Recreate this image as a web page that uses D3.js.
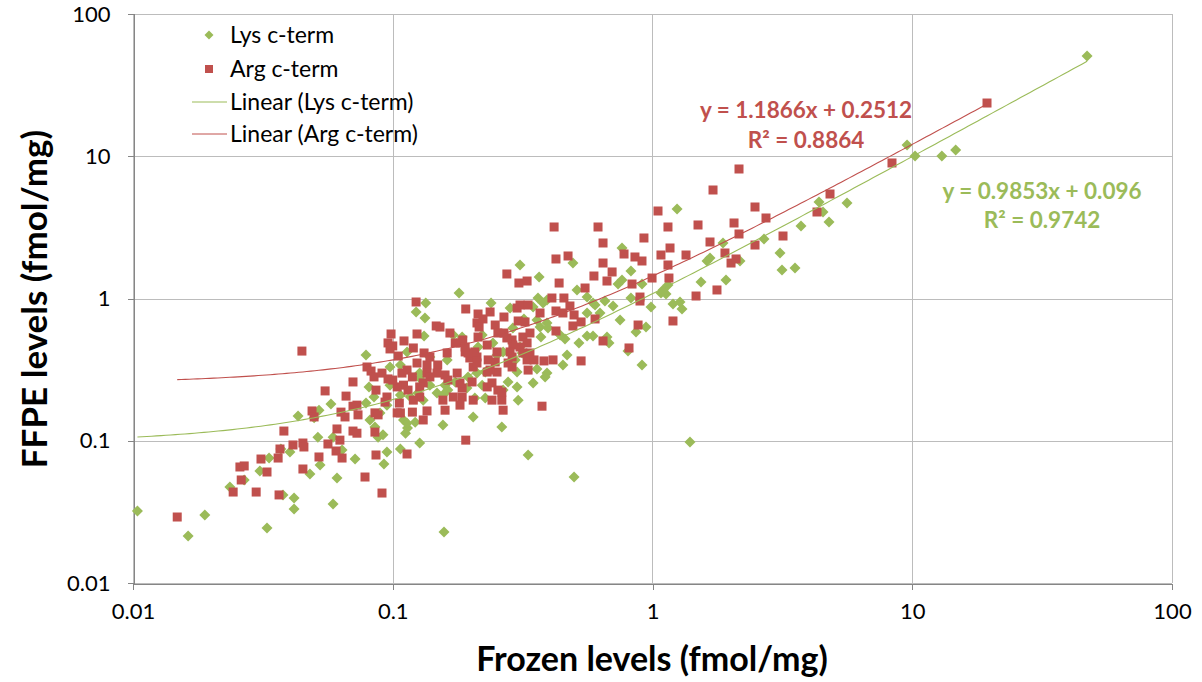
<!DOCTYPE html>
<html><head><meta charset="utf-8">
<script src="https://cdn.jsdelivr.net/npm/d3@7"></script>
<style>
body{margin:0;background:#fff;}
svg{display:block;font-family:Lato,"Open Sans",sans-serif;}
</style>
</head><body><svg id="chart" width="1202" height="682"></svg>
<script>
// ---------- data ----------
const tickValues = [0.01, 0.1, 1, 10, 100];
const tickLabels = ["0.01", "0.1", "1", "10", "100"];
const xTitle = "Frozen levels (fmol/mg)";
const yTitle = "FFPE levels (fmol/mg)";
const seriesNames = ["Lys c-term", "Arg c-term"];
const trendNames = ["Linear (Lys c-term)", "Linear (Arg c-term)"];
const lysFit = [0.9853, 0.096, 0.9742];   // slope, intercept, R²
const argFit = [1.1866, 0.2512, 0.8864];

// [frozen, FFPE]
const lysPoints = [
[0.0104,0.0321],[0.0163,0.0214],[0.0189,0.0301],[0.0328,0.0244],[0.0417,0.0396],[0.0417,0.0331],[0.0378,0.0416],[0.0589,0.0359],
[0.048,0.0584],[0.0525,0.0676],[0.061,0.0547],[0.0716,0.0744],[0.0515,0.106],[0.0589,0.106],[0.0334,0.0756],[0.0308,0.0613],
[0.0236,0.0473],[0.0268,0.053],[0.0371,0.0875],[0.0402,0.0833],[0.0638,0.0861],[0.0878,0.106],[0.0789,0.401],[0.081,0.239],
[0.0847,0.203],[0.0789,0.184],[0.0578,0.181],[0.052,0.164],[0.0432,0.149],[0.0498,0.145],[0.0817,0.140],[0.0854,0.125],
[0.180,1.093],[0.134,0.930],[0.123,0.804],[0.133,0.729],[0.239,0.930],[0.283,0.857],[0.132,0.545],[0.185,0.536],
[0.162,0.370],[0.0976,0.330],[0.1135,0.421],[0.213,0.456],[0.221,0.554],[0.243,0.487],[0.266,0.421],[0.296,0.370],
[0.315,0.414],[0.227,0.304],[0.211,0.299],[0.195,0.281],[0.221,0.246],[0.207,0.200],[0.193,0.235],[0.301,0.304],
[0.301,0.239],[0.278,0.259],[0.227,0.200],[0.266,0.227],[0.304,0.193],[0.263,0.125],[0.204,0.147],[0.156,0.129],
[0.131,0.193],[0.139,0.246],[0.159,0.246],[0.174,0.259],[0.127,0.276],[0.117,0.203],[0.107,0.210],[0.095,0.178],
[0.0893,0.157],[0.110,0.140],[0.122,0.135],[0.114,0.123],[0.0976,0.246],[0.163,0.227],[0.125,0.217],[0.107,0.341],
[0.139,0.388],[0.127,0.299],[0.171,0.554],[0.252,0.401],[0.309,0.456],[0.320,0.718],[0.290,0.620],[0.156,0.210],
[0.148,0.217],[0.309,1.720],[0.1575,0.0228],[0.332,0.0794],[0.499,0.0556],[0.127,0.0964],[0.107,0.0875],[0.095,0.0833],
[0.0925,0.0687],[0.112,0.113],[0.0917,0.110],[0.1135,0.133],[1.394,0.098],[0.366,1.416],[0.3625,1.008],[0.379,0.930],
[0.3925,0.976],[0.512,1.148],[0.560,1.024],[0.494,1.776],[0.601,0.900],[0.590,0.930],[0.560,0.791],[0.521,0.487],
[0.4605,0.519],[0.469,0.401],[0.452,0.341],[0.441,0.554],[0.3925,0.673],[0.396,0.620],[0.372,0.536],[0.369,0.630],
[0.359,0.706],[0.347,0.871],[0.347,0.255],[0.386,0.281],[0.3925,0.299],[0.359,0.320],[0.590,0.545],[0.560,0.545],
[1.243,4.258],[0.763,2.265],[0.826,1.561],[0.737,1.264],[0.763,1.349],[0.911,1.264],[0.656,0.960],[0.705,0.886],
[0.628,0.791],[0.750,0.706],[0.826,1.008],[0.987,0.871],[1.098,1.148],[1.078,1.093],[1.127,1.076],[1.147,1.244],
[1.199,0.915],[1.276,0.945],[1.299,0.844],[1.537,1.306],[1.919,1.349],[1.665,1.927],[1.621,1.835],[1.868,2.456],
[2.172,1.835],[2.687,2.620],[3.097,2.089],[3.152,1.586],[3.537,1.638],[3.730,3.234],[4.375,4.770],[4.533,4.056],
[4.781,3.451],[5.609,4.694],[0.944,0.630],[0.864,0.581],[0.668,0.536],[0.680,0.487],[0.805,0.427],[0.911,0.341],
[47.1,50.7],[9.55,12.0],[10.25,10.04],[13.0,10.04],[14.7,11.07]
];

const argPoints = [
[0.0447,0.427],[0.0796,0.330],[0.0825,0.309],[0.0847,0.281],[0.0703,0.259],[0.0549,0.224],[0.0661,0.206],[0.0703,0.175],
[0.0728,0.178],[0.0854,0.157],[0.0878,0.152],[0.0489,0.162],[0.0498,0.147],[0.0632,0.159],[0.0655,0.147],[0.0735,0.152],
[0.061,0.121],[0.0862,0.227],[0.0148,0.0291],[0.0243,0.0436],[0.0261,0.053],[0.0258,0.0654],[0.0268,0.0665],[0.0298,0.0436],
[0.0328,0.0603],[0.0311,0.0744],[0.0362,0.0756],[0.0368,0.0875],[0.0365,0.0416],[0.0451,0.0633],[0.0413,0.0934],[0.0451,0.0964],
[0.0455,0.0904],[0.052,0.0769],[0.0563,0.0949],[0.0605,0.0847],[0.0626,0.101],[0.0638,0.0756],[0.0782,0.0556],[0.0862,0.0794],
[0.0381,0.117],[0.0703,0.117],[0.0728,0.113],[0.0854,0.115],
[0.123,0.945],[0.191,0.844],[0.213,0.778],[0.237,0.804],[0.268,0.741],[0.301,0.857],[0.309,0.900],[0.211,0.673],
[0.304,0.695],[0.323,0.684],[0.147,0.641],[0.152,0.630],[0.166,0.572],[0.182,0.487],[0.186,0.511],[0.213,0.536],
[0.231,0.471],[0.248,0.651],[0.254,0.572],[0.268,0.572],[0.288,0.511],[0.290,0.471],[0.317,0.536],[0.329,0.487],
[0.283,0.421],[0.288,0.388],[0.317,0.414],[0.329,0.370],[0.252,0.421],[0.248,0.358],[0.233,0.370],[0.231,0.304],
[0.288,0.330],[0.231,0.239],[0.241,0.255],[0.254,0.227],[0.263,0.193],[0.204,0.330],[0.211,0.388],[0.198,0.382],
[0.207,0.421],[0.190,0.421],[0.174,0.487],[0.162,0.414],[0.0985,0.563],[0.0959,0.487],[0.100,0.464],[0.0976,0.442],
[0.1105,0.503],[0.124,0.563],[0.120,0.449],[0.132,0.414],[0.105,0.394],[0.0909,0.299],[0.0959,0.272],[0.095,0.203],
[0.0934,0.187],[0.106,0.184],[0.107,0.157],[0.119,0.159],[0.1135,0.314],[0.119,0.281],[0.110,0.246],[0.1145,0.227],
[0.124,0.352],[0.1355,0.341],[0.131,0.255],[0.131,0.140],[0.1355,0.162],[0.104,0.239],[0.127,0.203],[0.120,0.193],
[0.104,0.157],[0.1085,0.299],[0.100,0.267],[0.127,0.239],[0.139,0.388],[0.149,0.341],[0.1355,0.299],[0.148,0.299],
[0.159,0.290],[0.163,0.267],[0.177,0.299],[0.185,0.235],[0.185,0.203],[0.171,0.203],[0.156,0.193],[0.159,0.164],
[0.204,0.193],[0.241,0.193],[0.266,0.164],[0.309,0.456],[0.332,0.900],[0.202,0.259],[0.263,0.220],[0.1815,0.255],
[0.278,0.352],[0.252,0.304],[0.332,0.314],[0.139,0.281],[0.195,0.414],[0.211,0.352],[0.237,0.314],[0.3375,0.572],
[0.3375,0.414],[0.2225,0.718],[0.275,0.528],[0.215,0.630],[0.190,0.456],[0.1815,0.178],[0.191,0.101],[0.1135,0.0807],
[0.0909,0.0429],[0.3755,0.175],[0.275,1.487],[0.306,1.285],[0.329,1.327],[0.418,3.182],[0.617,3.182],[0.425,1.896],
[0.473,1.990],[0.595,1.439],[0.437,1.285],[0.550,1.185],[0.410,1.008],[0.456,1.008],[0.369,0.791],[0.425,0.817],
[0.481,0.886],[0.499,0.766],[0.452,0.791],[0.494,0.641],[0.531,0.684],[0.601,0.718],[0.425,0.591],[0.350,0.370],
[0.382,0.364],[0.414,0.370],[0.531,0.364],
[2.153,8.136],[1.710,5.791],[1.050,4.122],[1.147,3.182],[1.497,3.287],[2.481,4.398],[2.735,3.681],[2.060,3.395],
[2.153,2.841],[1.665,2.496],[0.927,2.663],[0.645,2.456],[0.777,2.055],[0.856,1.958],[0.911,1.835],[1.078,2.022],
[1.168,2.265],[1.346,2.022],[1.901,2.089],[2.006,1.776],[2.097,1.896],[2.481,2.377],[3.180,2.750],[4.298,4.056],
[4.824,5.428],[8.356,8.97],[0.645,1.776],[0.699,1.536],[0.668,1.327],[0.834,1.264],[0.996,1.393],[1.147,1.720],
[1.157,1.393],[0.895,1.024],[0.895,0.960],[1.471,1.041],[1.771,1.148],[1.199,0.695],[0.880,0.651],[0.812,0.449],
[0.645,0.503],[19.4,23.67]
];

// ---------- layout ----------
const GREEN = "#9BBB59", RED = "#C0504D";
const svg = d3.select("#chart");
const x = d3.scaleLog().domain([0.01, 100]).range([133, 1172]);
const y = d3.scaleLog().domain([0.01, 100]).range([583, 14]);

// grid
const grid = svg.append("g").attr("shape-rendering", "crispEdges");
grid.selectAll(".vg").data(tickValues).join("line")
  .attr("x1", d => Math.round(x(d)) + 0.5).attr("x2", d => Math.round(x(d)) + 0.5)
  .attr("y1", y(100)).attr("y2", y(0.01)).attr("stroke", "#bcbcbc");
grid.selectAll(".hg").data(tickValues).join("line")
  .attr("y1", d => Math.round(y(d)) + 0.5).attr("y2", d => Math.round(y(d)) + 0.5)
  .attr("x1", x(0.01)).attr("x2", x(100)).attr("stroke", "#bcbcbc");

// axes
const fmt = (d) => tickLabels[tickValues.indexOf(d)];
const xAxis = svg.append("g").attr("transform", `translate(0,${Math.round(y(0.01)) + 0.5})`)
  .call(d3.axisBottom(x).tickValues(tickValues).tickFormat(fmt).tickSize(6).tickPadding(14));
const yAxis = svg.append("g").attr("transform", `translate(${Math.round(x(0.01)) + 0.5},0)`)
  .call(d3.axisLeft(y).tickValues(tickValues).tickFormat(fmt).tickSize(6).tickPadding(17));
[xAxis, yAxis].forEach(a => {
  a.select(".domain").attr("stroke", "#868686").attr("shape-rendering", "crispEdges");
  a.selectAll(".tick line").attr("stroke", "#868686").attr("shape-rendering", "crispEdges");
  a.selectAll(".tick text").attr("font-family", "Lato, sans-serif").attr("font-size", 22).attr("fill", "#000");
});

// markers
const diamond = "M0,-5.5L5.5,0L0,5.5L-5.5,0Z";
svg.append("g").selectAll("path").data(lysPoints).join("path")
  .attr("d", diamond)
  .attr("transform", d => `translate(${x(d[0])},${y(d[1])})`)
  .attr("fill", GREEN);
svg.append("g").selectAll("rect").data(argPoints).join("rect")
  .attr("x", d => x(d[0]) - 4.5).attr("y", d => y(d[1]) - 4.5)
  .attr("width", 9).attr("height", 9)
  .attr("fill", RED);

// trend lines (from fitted equations over each series' frozen range)
function trend(points, fit) {
  const ext = d3.extent(points, d => d[0]);
  const l0 = Math.log10(ext[0]), l1 = Math.log10(ext[1]);
  const n = 200;
  return d3.range(n + 1).map(i => {
    const xv = Math.pow(10, l0 + (l1 - l0) * i / n);
    return [xv, fit[0] * xv + fit[1]];
  });
}
const line = d3.line().x(d => x(d[0])).y(d => y(d[1]));
svg.append("path").datum(trend(lysPoints, lysFit)).attr("d", line)
  .attr("fill", "none").attr("stroke", GREEN).attr("stroke-width", 1.1);
svg.append("path").datum(trend(argPoints, argFit)).attr("d", line)
  .attr("fill", "none").attr("stroke", RED).attr("stroke-width", 1.1);

// legend
const lg = svg.append("g").attr("font-size", 23).attr("fill", "#000");
lg.append("path").attr("d", "M0,-4.5L4.5,0L0,4.5L-4.5,0Z").attr("transform", "translate(209,35)").attr("fill", GREEN);
lg.append("rect").attr("x", 205).attr("y", 65).attr("width", 8).attr("height", 8).attr("fill", RED);
lg.append("line").attr("x1", 192).attr("x2", 227).attr("y1", 102).attr("y2", 102).attr("stroke", GREEN);
lg.append("line").attr("x1", 192).attr("x2", 227).attr("y1", 134).attr("y2", 134).attr("stroke", RED);
const legendLabels = [seriesNames[0], seriesNames[1], trendNames[0], trendNames[1]];
const legendY = [35, 69, 102, 134];
lg.selectAll("text").data(legendLabels).join("text")
  .attr("x", 230).attr("y", (d, i) => legendY[i]).attr("dy", "0.35em").text(d => d);

// equations
const eq = svg.append("g").attr("font-weight", "bold").attr("font-size", 22.5).attr("text-anchor", "middle");
eq.append("text").attr("x", 806).attr("y", 110).attr("dy", "0.35em").attr("fill", RED)
  .text(`y = ${argFit[0].toFixed(4)}x + ${argFit[1].toFixed(4)}`);
eq.append("text").attr("x", 806).attr("y", 140).attr("dy", "0.35em").attr("fill", RED)
  .text(`R² = ${argFit[2].toFixed(4)}`);
eq.append("text").attr("x", 1042).attr("y", 191).attr("dy", "0.35em").attr("fill", GREEN)
  .text(`y = ${lysFit[0].toFixed(4)}x + ${lysFit[1]}`);
eq.append("text").attr("x", 1042).attr("y", 220).attr("dy", "0.35em").attr("fill", GREEN)
  .text(`R² = ${lysFit[2].toFixed(4)}`);

// axis titles
svg.append("text").attr("x", 652).attr("y", 659).attr("dy", "0.35em")
  .attr("text-anchor", "middle").attr("font-weight", "bold").attr("font-size", 34).text(xTitle);
svg.append("text").attr("transform", "translate(35,299) rotate(-90)").attr("dy", "0.35em")
  .attr("text-anchor", "middle").attr("font-weight", "bold").attr("font-size", 35).text(yTitle);
</script>
</body></html>
